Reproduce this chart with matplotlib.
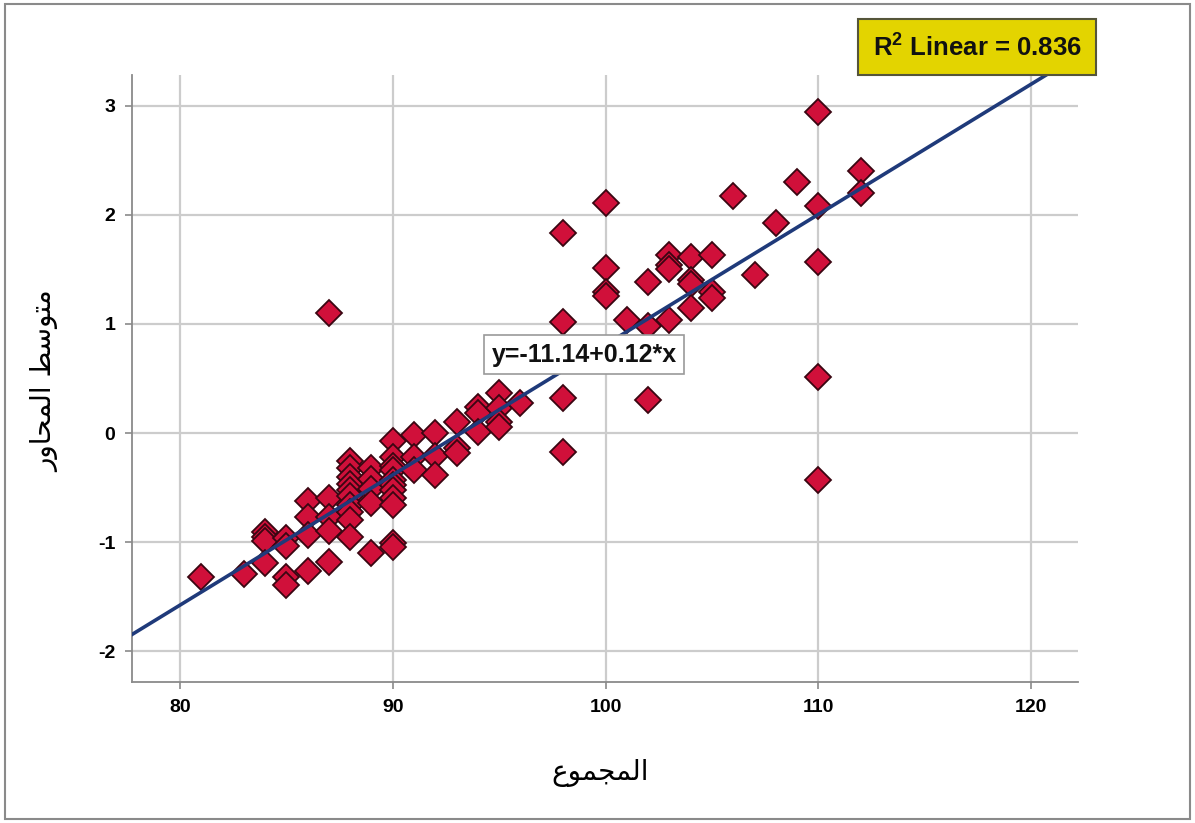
import numpy as np
import matplotlib
matplotlib.use('Agg')
import matplotlib.pyplot as plt
from matplotlib.patches import Rectangle

# values
x_total = ([81, 83] + [84] * 4 + [85] * 4 + [86] * 4 + [87] * 5 + [88] * 10 + [89] * 5 +
           [90] * 11 + [91] * 3 + [92] * 3 + [93] * 3 + [94] * 3 + [95] * 4 + [96] +
           [98] * 4 + [100] * 4 + [101] + [102] * 3 + [103] * 4 + [104] * 4 + [105] * 3 +
           [106, 107, 108, 109] + [110] * 5 + [112] * 2)
y_mean = ([-1.32, -1.29,
           -0.91, -0.95, -0.99, -1.19,
           -0.96, -1.03, -1.32, -1.39,
           -0.62, -0.77, -0.93, -1.26,
           1.10, -0.59, -0.77, -0.90, -1.18,
           -0.26, -0.32, -0.40, -0.47, -0.52, -0.58, -0.66, -0.72, -0.80, -0.95,
           -0.32, -0.42, -0.51, -0.64, -1.10,
           -0.07, -0.22, -0.30, -0.34, -0.43, -0.48, -0.52, -0.59, -0.66, -1.01, -1.04,
           -0.02, -0.22, -0.34,
           0.00, -0.21, -0.38,
           0.10, -0.14, -0.18,
           0.24, 0.18, 0.01,
           0.37, 0.23, 0.10, 0.06,
           0.28,
           1.83, 1.02, 0.32, -0.17,
           2.11, 1.51, 1.29, 1.26,
           1.04,
           1.38, 0.98, 0.30,
           1.63, 1.54, 1.50, 1.04,
           1.61, 1.40, 1.37, 1.15,
           1.63, 1.29, 1.24,
           2.17, 1.45, 1.92, 2.30,
           2.94, 2.08, 1.57, 0.51, -0.43,
           2.40, 2.20])

intercept = -11.12
slope = 0.1193
r2_text = 'R$^{\\mathbf{2}}$ Linear = 0.836'
eq_text = 'y=-11.14+0.12*x'
x_ticks = [80, 90, 100, 110, 120]
y_ticks = [-2, -1, 0, 1, 2, 3]
x_label = 'المجموع'
y_label = 'متوسط المحاور'

# matplotlib does no arabic shaping: pick presentation forms and reverse
FORMS = {
    'ا': ('\uFE8D', '\uFE8E', None, None),
    'ل': ('\uFEDD', '\uFEDE', '\uFEDF', '\uFEE0'),
    'م': ('\uFEE1', '\uFEE2', '\uFEE3', '\uFEE4'),
    'ج': ('\uFE9D', '\uFE9E', '\uFE9F', '\uFEA0'),
    'و': ('\uFEED', '\uFEEE', None, None),
    'ع': ('\uFEC9', '\uFECA', '\uFECB', '\uFECC'),
    'ت': ('\uFE95', '\uFE96', '\uFE97', '\uFE98'),
    'س': ('\uFEB1', '\uFEB2', '\uFEB3', '\uFEB4'),
    'ط': ('\uFEC1', '\uFEC2', '\uFEC3', '\uFEC4'),
    'ح': ('\uFEA1', '\uFEA2', '\uFEA3', '\uFEA4'),
    'ر': ('\uFEAD', '\uFEAE', None, None),
}


def shape(text):
    out = []
    for i, ch in enumerate(text):
        if ch not in FORMS:
            out.append(ch)
            continue
        prev = text[i - 1] if i > 0 else ''
        nxt = text[i + 1] if i + 1 < len(text) else ''
        jp = prev in FORMS and FORMS[prev][2] is not None
        jn = FORMS[ch][2] is not None and nxt in FORMS
        iso, fin, ini, med = FORMS[ch]
        if jp and jn:
            out.append(med)
        elif jp:
            out.append(fin)
        elif jn:
            out.append(ini)
        else:
            out.append(iso)
    return ''.join(out[::-1])


plt.rcParams['mathtext.fontset'] = 'custom'
plt.rcParams['mathtext.bf'] = 'Liberation Sans:bold'
plt.rcParams['mathtext.rm'] = 'Liberation Sans:bold'
plt.rcParams['axes.unicode_minus'] = False

fig = plt.figure(figsize=(11.95, 8.23), dpi=100)
ax = fig.add_axes([0.1105, 0.1713, 0.7916, 0.7376])

ax.set_xlim(77.75, 122.2)
ax.set_ylim(-2.28, 3.28)
ax.set_xticks(x_ticks)
ax.set_yticks(y_ticks)
ax.grid(True, color='#cccccc', linewidth=1.6)
ax.set_axisbelow(True)
for s in ['top', 'right']:
    ax.spines[s].set_visible(False)
for s in ['left', 'bottom']:
    ax.spines[s].set_color('#8a8a8a')
    ax.spines[s].set_linewidth(1.3)
ax.tick_params(length=5, color='#8a8a8a', width=1.2, pad=7)
for lab in ax.get_xticklabels() + ax.get_yticklabels():
    lab.set_fontfamily('Liberation Sans')
    lab.set_fontweight('bold')
    lab.set_fontsize(14)

ax.plot(x_total, y_mean, linestyle='none', marker='D', markersize=13,
        markerfacecolor='#d0103a', markeredgecolor='#3a0612', markeredgewidth=1.3, zorder=3)

xl = np.array(ax.get_xlim())
ax.plot(xl, intercept + slope * xl, color='#1f3a7a', linewidth=2.6, zorder=4)

ax.text(99.0, 0.716, eq_text, ha='center', va='center', fontsize=18,
        fontfamily='Liberation Sans', fontweight='bold', color='#111111', zorder=5,
        bbox=dict(boxstyle='square,pad=0.3', facecolor='white', edgecolor='#9a9a9a', linewidth=1.2))

fig.text(0.8176, 0.943, r2_text, ha='center', va='center', fontsize=18.5,
         fontfamily='Liberation Sans', fontweight='bold', color='#111111',
         bbox=dict(boxstyle='square,pad=0.55', facecolor='#e3d400', edgecolor='#55553a', linewidth=1.5))

fig.text(0.502, 0.061, shape(x_label), ha='center', va='center', fontsize=20,
         fontfamily='DejaVu Sans')
fig.text(0.038, 0.537, shape(y_label), ha='center', va='center', fontsize=20,
         fontfamily='DejaVu Sans', rotation=90)

fig.patches.append(Rectangle((0.004, 0.005), 0.992, 0.99, transform=fig.transFigure,
                             fill=False, edgecolor='#8a8a8a', linewidth=1.5))

fig.savefig('out.png', dpi=100)
